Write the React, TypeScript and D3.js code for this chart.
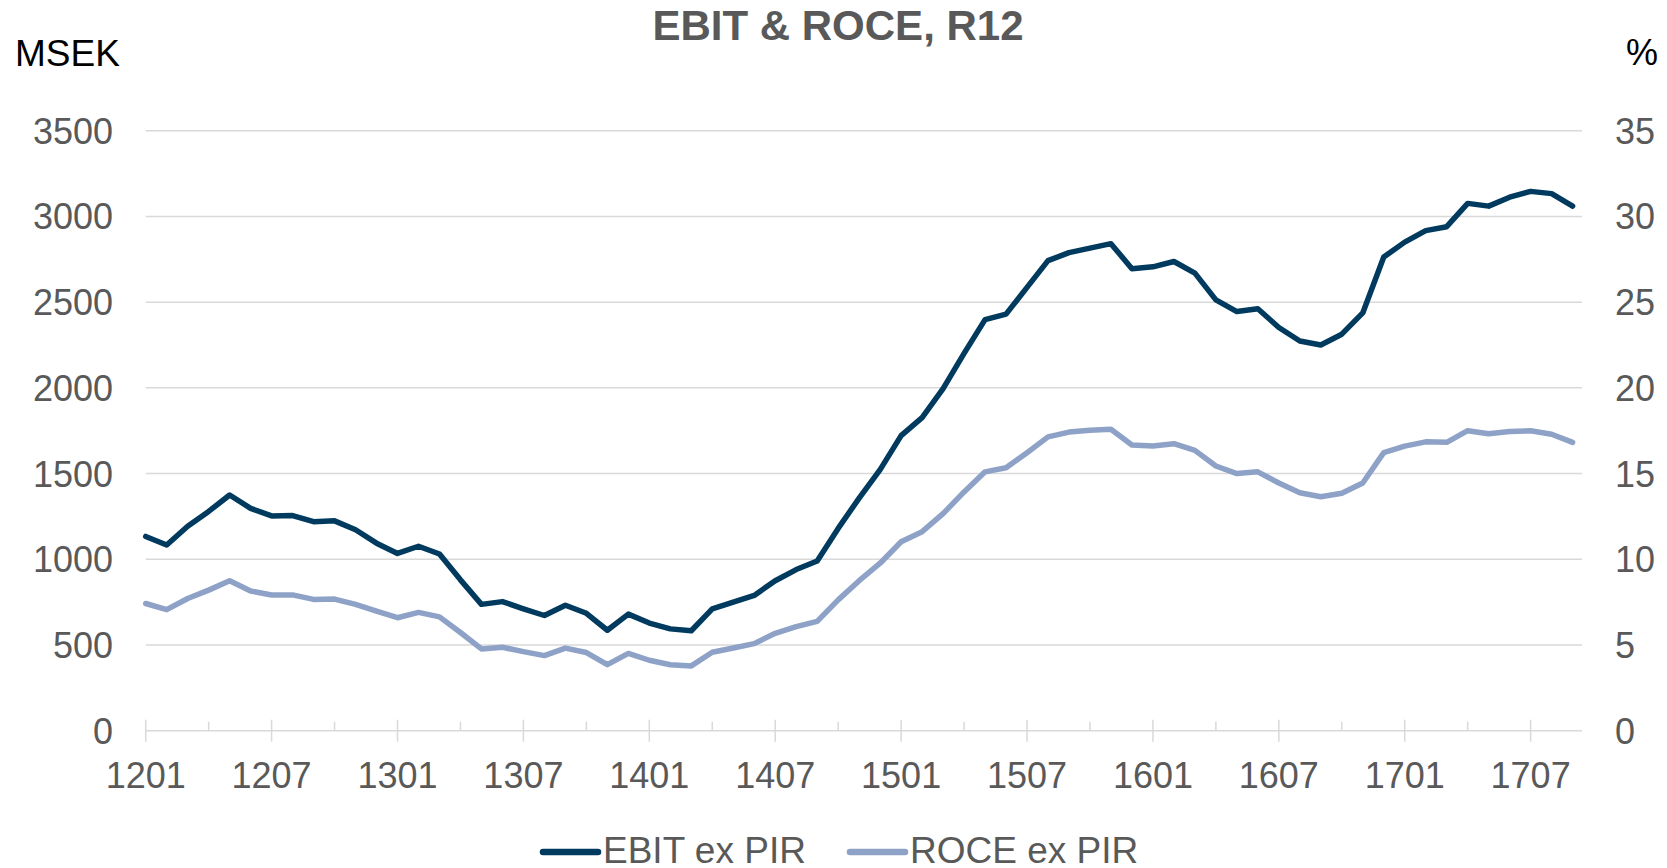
import React, { useEffect, useRef } from "react";
import * as d3 from "d3";

// monthly periods, YYMM
const months = [
  "1201", "1202", "1203", "1204", "1205", "1206", "1207", "1208", "1209", "1210", "1211", "1212",
  "1301", "1302", "1303", "1304", "1305", "1306", "1307", "1308", "1309", "1310", "1311", "1312",
  "1401", "1402", "1403", "1404", "1405", "1406", "1407", "1408", "1409", "1410", "1411", "1412",
  "1501", "1502", "1503", "1504", "1505", "1506", "1507", "1508", "1509", "1510", "1511", "1512",
  "1601", "1602", "1603", "1604", "1605", "1606", "1607", "1608", "1609", "1610", "1611", "1612",
  "1701", "1702", "1703", "1704", "1705", "1706", "1707", "1708", "1709",
];

// MSEK, rolling 12 months
const ebitExPir = [
  1133, 1083, 1193, 1279, 1375, 1297, 1253, 1255, 1219, 1224, 1172, 1094,
  1034, 1076, 1031, 880, 737, 753, 711, 672, 732, 685, 586, 680,
  628, 594, 583, 711, 750, 789, 875, 940, 990, 1180, 1357, 1523,
  1721, 1826, 1995, 2201, 2398, 2430, 2586, 2742, 2789, 2815, 2841, 2695,
  2706, 2737, 2669, 2513, 2445, 2461, 2352, 2273, 2250, 2313, 2437, 2763,
  2850, 2917, 2940, 3076, 3060, 3112, 3146, 3133, 3060,
];

// %
const roceExPir = [
  7.42, 7.06, 7.71, 8.2, 8.75, 8.15, 7.92, 7.92, 7.66, 7.68, 7.37, 6.98,
  6.59, 6.9, 6.64, 5.73, 4.77, 4.87, 4.61, 4.38, 4.82, 4.56, 3.85, 4.51,
  4.11, 3.85, 3.78, 4.58, 4.82, 5.08, 5.68, 6.07, 6.38, 7.63, 8.75, 9.77,
  11.02, 11.61, 12.66, 13.93, 15.1, 15.34, 16.22, 17.14, 17.42, 17.53, 17.58, 16.67,
  16.61, 16.74, 16.35, 15.44, 15.0, 15.1, 14.45, 13.88, 13.65, 13.85, 14.45, 16.22,
  16.6, 16.85, 16.82, 17.5, 17.32, 17.45, 17.5, 17.29, 16.82,
];

const leftTicks = [0, 500, 1000, 1500, 2000, 2500, 3000, 3500];
const rightTicks = [0, 5, 10, 15, 20, 25, 30, 35];

const seriesNames = ["EBIT ex PIR", "ROCE ex PIR"];
const seriesColors = ["#003a5e", "#8ea2c7"];

const App = () => {
  const ref = useRef<SVGSVGElement>(null);

  useEffect(() => {
    const width = 1667;
    const height = 868;
    const x0 = 145.7;      // first month
    const x1 = 1572.6;     // last month
    const gridEnd = 1582;
    const yTop = 130.7;
    const yBottom = 730.7;
    const font = "'Liberation Sans', Arial, sans-serif";
    const grey = "#595959";
    const gridColor = "#d9d9d9";

    const svg = d3.select(ref.current).attr("width", width).attr("height", height);
    svg.selectAll("*").remove();

    const xScale = d3.scalePoint<string>().domain(months).range([x0, x1]);
    const yLeft = d3.scaleLinear().domain([0, 3500]).range([yBottom, yTop]);
    const yRight = d3.scaleLinear().domain([0, 35]).range([yBottom, yTop]);

    // gridlines
    svg.append("g").selectAll("line").data(leftTicks.slice(1)).join("line")
      .attr("x1", x0).attr("x2", gridEnd)
      .attr("y1", d => yLeft(d)).attr("y2", d => yLeft(d))
      .attr("stroke", gridColor).attr("stroke-width", 1.5);

    // x axis line + ticks
    svg.append("line")
      .attr("x1", x0).attr("x2", gridEnd)
      .attr("y1", yBottom).attr("y2", yBottom)
      .attr("stroke", gridColor).attr("stroke-width", 1.5);

    const majors = months.filter((_, i) => i % 6 === 0);
    const minors = months.filter((_, i) => i % 6 === 3);

    svg.append("g").selectAll("line").data(majors).join("line")
      .attr("x1", d => xScale(d)!).attr("x2", d => xScale(d)!)
      .attr("y1", yBottom - 11).attr("y2", yBottom + 11)
      .attr("stroke", gridColor).attr("stroke-width", 1.5);

    svg.append("g").selectAll("line").data(minors).join("line")
      .attr("x1", d => xScale(d)!).attr("x2", d => xScale(d)!)
      .attr("y1", yBottom - 9).attr("y2", yBottom)
      .attr("stroke", gridColor).attr("stroke-width", 1.5);

    // x labels
    svg.append("g").selectAll("text").data(majors).join("text")
      .attr("x", d => xScale(d)!).attr("y", 788)
      .attr("text-anchor", "middle")
      .attr("font-family", font).attr("font-size", 36).attr("fill", grey)
      .text(d => d);

    // left labels
    svg.append("g").selectAll("text").data(leftTicks).join("text")
      .attr("x", 113).attr("y", d => yLeft(d))
      .attr("dy", "0.36em")
      .attr("text-anchor", "end")
      .attr("font-family", font).attr("font-size", 36).attr("fill", grey)
      .text(d => d);

    // right labels
    svg.append("g").selectAll("text").data(rightTicks).join("text")
      .attr("x", 1615).attr("y", d => yRight(d))
      .attr("dy", "0.36em")
      .attr("text-anchor", "start")
      .attr("font-family", font).attr("font-size", 36).attr("fill", grey)
      .text(d => d);

    // lines
    const lineLeft = d3.line<number>()
      .x((_, i) => xScale(months[i])!)
      .y(d => yLeft(d));
    const lineRight = d3.line<number>()
      .x((_, i) => xScale(months[i])!)
      .y(d => yRight(d));

    svg.append("path").datum(roceExPir)
      .attr("d", lineRight)
      .attr("fill", "none").attr("stroke", seriesColors[1])
      .attr("stroke-width", 5.5).attr("stroke-linejoin", "round").attr("stroke-linecap", "round");

    svg.append("path").datum(ebitExPir)
      .attr("d", lineLeft)
      .attr("fill", "none").attr("stroke", seriesColors[0])
      .attr("stroke-width", 5.5).attr("stroke-linejoin", "round").attr("stroke-linecap", "round");

    // titles
    svg.append("text")
      .attr("x", 838).attr("y", 40)
      .attr("text-anchor", "middle")
      .attr("font-family", font).attr("font-size", 42).attr("font-weight", "bold").attr("fill", grey)
      .text("EBIT & ROCE, R12");

    svg.append("text")
      .attr("x", 15).attr("y", 66)
      .attr("font-family", font).attr("font-size", 37).attr("fill", "#000")
      .text("MSEK");

    svg.append("text")
      .attr("x", 1658).attr("y", 65)
      .attr("text-anchor", "end")
      .attr("font-family", font).attr("font-size", 36).attr("fill", "#000")
      .text("%");

    // legend
    const legendX = [543, 850];
    const legend = svg.append("g").selectAll("g").data(seriesNames).join("g")
      .attr("transform", (_, i) => `translate(${legendX[i]}, 852)`);
    legend.append("line")
      .attr("x1", 0).attr("x2", 55).attr("y1", 0).attr("y2", 0)
      .attr("stroke", (_, i) => seriesColors[i])
      .attr("stroke-width", 6.5).attr("stroke-linecap", "round");
    legend.append("text")
      .attr("x", 60).attr("y", 11)
      .attr("font-family", font).attr("font-size", 37).attr("fill", grey)
      .text(d => d);
  }, []);

  return (
    <div style={{ position: "absolute", left: 0, top: 0, width: 1667, height: 868, overflow: "hidden", background: "#fff" }}>
      <svg ref={ref} style={{ display: "block" }}></svg>
    </div>
  );
};

export default App;
